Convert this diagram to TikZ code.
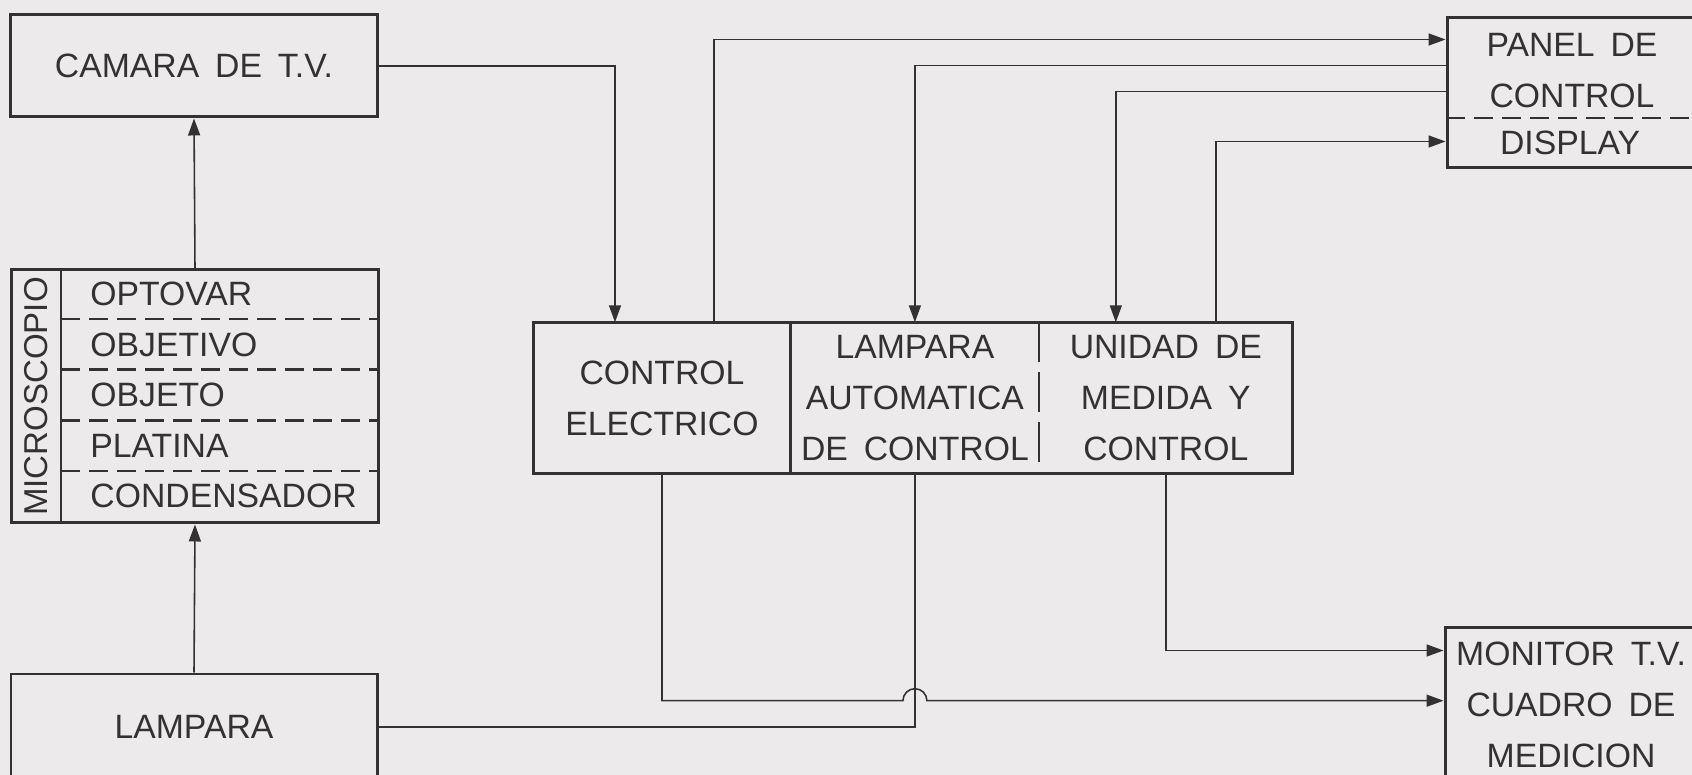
\documentclass[tikz,border=0pt]{standalone}
\usepackage{fontspec}
\setmainfont{Liberation Sans}[WordSpace=1.7]
\usetikzlibrary{arrows.meta,calc,positioning}

\definecolor{paper}{RGB}{237,234,235}
\definecolor{ink}{RGB}{50,50,50}
\newcommand{\lbl}{\fontsize{9.6pt}{14.5pt}\selectfont}

\begin{document}
\begin{tikzpicture}[>={Triangle[length=1.7mm,width=1.2mm]},
    box/.style={draw=ink,line width=0.85pt,inner sep=0pt,text=ink,align=center,font=\lbl},
    cell/.style={inner sep=0pt,minimum height=1.5cm,text=ink,align=center,font=\lbl},
    txt/.style={inner sep=0pt,text=ink,align=center,font=\lbl},
    wire/.style={draw=ink,line width=0.45pt},
    sep/.style={draw=ink,line width=0.7pt,dash pattern=on 1.9mm off 0.9mm}]

    % === Page ===
    \useasboundingbox (0,0) rectangle (16.92,-7.75);
    \fill[paper] (0,0) rectangle (16.92,-7.75);
    \clip (0,0) rectangle (16.92,-7.75);

    % === Left: camera, microscope, lamp ===
    \node[box,minimum width=3.67cm,minimum height=1.02cm] (cam) at (1.94,-0.66) {CAMARA DE T.V.};
    \node[box,minimum width=3.675cm,minimum height=2.53cm] (micro) at (1.95,-3.965) {};
    \node[box,minimum width=3.66cm,minimum height=1.06cm] (lamp) at (1.94,-7.27) {LAMPARA};

    % Microscope parts
    \draw[ink,line width=0.7pt] ([xshift=5.15mm]micro.north west) -- ([xshift=5.15mm]micro.south west);
    \node[txt,rotate=90,font=\fontsize{9.4pt}{11pt}\selectfont] (mlabel) at ($(micro.west)+(0.26,0)$) {MICROSCOPIO};
    \foreach \name [count=\i] in {OPTOVAR,OBJETIVO,OBJETO,PLATINA,CONDENSADOR} {
        \node[txt,anchor=west] (part\i) at ($(micro.north west)+(0.8,{-0.506*\i+0.253})$) {\name};
    }
    \foreach \i in {1,...,4}
        \draw[sep] ($(micro.north west)+(0.515,-0.506*\i)$) -- ($(micro.north east)+(0,-0.506*\i)$);

    % === Middle: control unit ===
    \node[cell,minimum width=2.56cm] (celec) at (6.62,-3.98) {CONTROL\\ELECTRICO};
    \node[cell,minimum width=2.47cm,right=0pt of celec] (lauto) {LAMPARA\\AUTOMATICA\\DE CONTROL};
    \node[cell,minimum width=2.52cm,right=0pt of lauto] (unid) {UNIDAD DE\\MEDIDA Y\\CONTROL};
    \draw[ink,line width=0.85pt] (celec.north west) rectangle (unid.south east);
    \draw[ink,line width=0.85pt] (lauto.north west) -- (lauto.south west);
    \draw[ink,line width=0.7pt,dash pattern=on 4mm off 1mm] (lauto.north east) -- (lauto.south east);

    % === Right: panel and monitor ===
    \node[box,minimum width=2.5cm,minimum height=1.5cm] (panel) at (15.72,-0.93) {};
    \node[txt] (ptitle) at (15.72,-0.705) {PANEL DE\\CONTROL};
    \node[txt] (pdisp) at (15.70,-1.43) {DISPLAY};
    \coordinate (pcut) at (0,-1.18);
    \draw[sep] (panel.west |- pcut) -- (panel.east |- pcut);
    \node[box,minimum width=2.52cm,minimum height=1.54cm] (moni) at (15.71,-7.05) {MONITOR T.V.\\CUADRO DE\\MEDICION};

    % === Connections ===
    \draw[wire,->] (micro.north) -- (cam.south);
    \draw[wire,->] (lamp.north) -- (micro.south);
    \draw[wire,->] (cam.east) -| ([xshift=-4.7mm]celec.north);
    \draw[wire,->] ([xshift=5.2mm]celec.north) |- ([yshift=-2.3mm]panel.north west);
    \draw[wire,->] ([yshift=-4.9mm]panel.north west) -| (lauto.north);
    \draw[wire,->] ([yshift=-7.5mm]panel.north west) -| ([xshift=-5mm]unid.north);
    \draw[wire,->] ([xshift=5mm]unid.north) |- ([yshift=-12.5mm]panel.north west);
    \draw[wire,->] (unid.south) |- ([yshift=-2.4mm]moni.north west);
    \path (lauto.south) ++(0,-2.27) coordinate (hop);
    \draw[wire,->] (celec.south) |- ([xshift=-1.2mm]hop)
        arc[start angle=180,end angle=0,radius=1.2mm] -- (hop -| moni.west);
    \draw[wire] (lamp.east) -| (lauto.south);
\end{tikzpicture}
\end{document}
